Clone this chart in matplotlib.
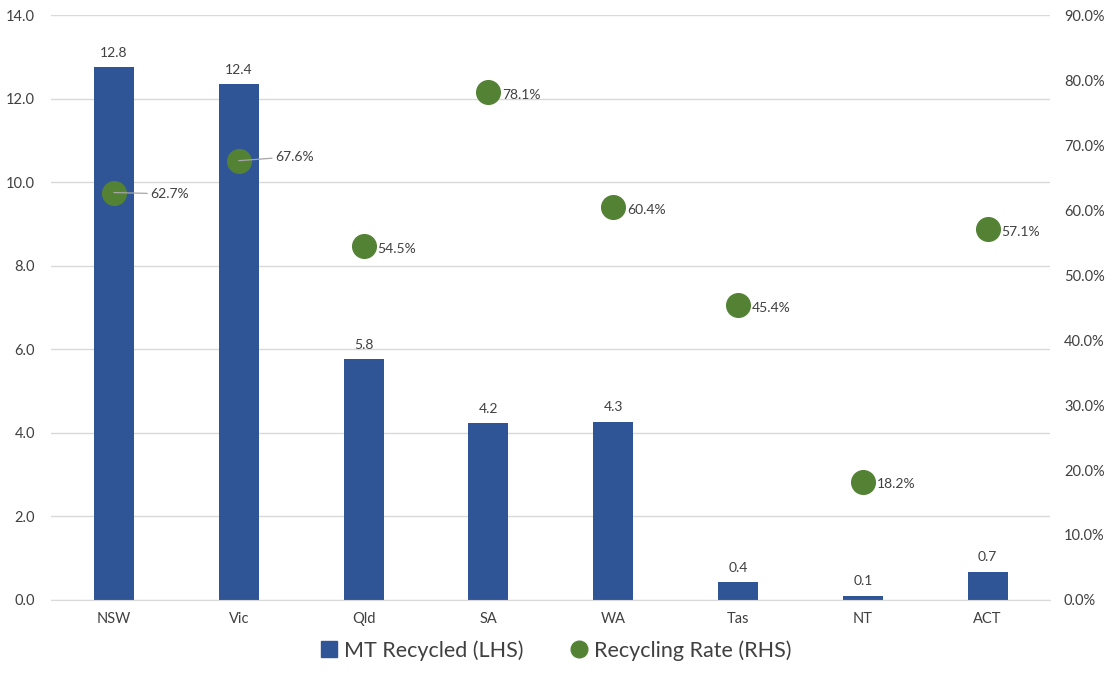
import matplotlib.pyplot as plt
import matplotlib.ticker as mtick
from matplotlib.lines import Line2D

plt.rcParams['font.family'] = ['Lato', 'DejaVu Sans']

states = ['NSW', 'Vic', 'Qld', 'SA', 'WA', 'Tas', 'NT', 'ACT']
mt_recycled = [12.76, 12.35, 5.76, 4.23, 4.27, 0.42, 0.10, 0.68]
mt_labels = ['12.8', '12.4', '5.8', '4.2', '4.3', '0.4', '0.1', '0.7']
rate = [62.7, 67.6, 54.5, 78.1, 60.4, 45.4, 18.2, 57.1]

bar_col = '#2F5597'
dot_col = '#548235'
txt_col = '#404040'

fig = plt.figure(figsize=(11.12, 6.73), dpi=100)
ax = fig.add_axes([0.0463, 0.1085, 0.898, 0.869])
ax2 = ax.twinx()

x = list(range(len(states)))
ax.bar(x, mt_recycled, width=0.32, color=bar_col, zorder=2)
for i, v in enumerate(mt_recycled):
    ax.annotate(mt_labels[i], (i, v), xytext=(0, 6), textcoords='offset points',
                ha='center', va='bottom', fontsize=10, color=txt_col)

ax.set_xlim(-0.5, len(states) - 0.5)
ax.set_ylim(0, 14)
ax.set_yticks([0, 2, 4, 6, 8, 10, 12, 14])
ax.yaxis.set_major_formatter(mtick.FormatStrFormatter('%.1f'))
ax.set_xticks(x)
ax.set_xticklabels(states)
ax.grid(axis='y', color='#D9D9D9', linewidth=1, zorder=0)
ax.set_axisbelow(True)

ax2.set_ylim(0, 90)
ax2.set_yticks(range(0, 91, 10))
ax2.yaxis.set_major_formatter(mtick.FormatStrFormatter('%.1f%%'))
ax2.scatter(x, rate, s=290, color=dot_col, zorder=3)

for i, r in enumerate(rate):
    lbl = '%.1f%%' % r
    if states[i] in ('NSW', 'Vic'):
        ax2.annotate(lbl, (i, r), xytext=(26, -1 if states[i] == 'NSW' else 3),
                     textcoords='offset points', ha='left', va='center',
                     fontsize=10, color=txt_col,
                     arrowprops=dict(arrowstyle='-', color='#A6A6A6', lw=0.9,
                                     shrinkA=0, shrinkB=0))
    else:
        ax2.annotate(lbl, (i, r), xytext=(10, -2), textcoords='offset points',
                     ha='left', va='center', fontsize=10, color=txt_col)

for a in (ax, ax2):
    for s in a.spines.values():
        s.set_visible(False)
    a.tick_params(length=0, labelsize=10.5, labelcolor=txt_col)
ax.spines['bottom'].set_visible(True)
ax.spines['bottom'].set_color('#D9D9D9')
ax.tick_params(axis='x', pad=9)
ax.tick_params(axis='y', pad=12)
ax2.tick_params(axis='y', pad=10)

handles = [Line2D([], [], marker='s', linestyle='none', markersize=11,
                  color=bar_col, label='MT Recycled (LHS)'),
           Line2D([], [], marker='o', linestyle='none', markersize=12,
                  color=dot_col, label='Recycling Rate (RHS)')]
fig.legend(handles=handles, loc='lower center', bbox_to_anchor=(0.5, 0.005),
           borderaxespad=0, ncol=2, frameon=False, fontsize=15.5,
           handlelength=0.8, handletextpad=0.3, columnspacing=2.2,
           labelcolor=txt_col)

fig.savefig('out.png', dpi=100)
